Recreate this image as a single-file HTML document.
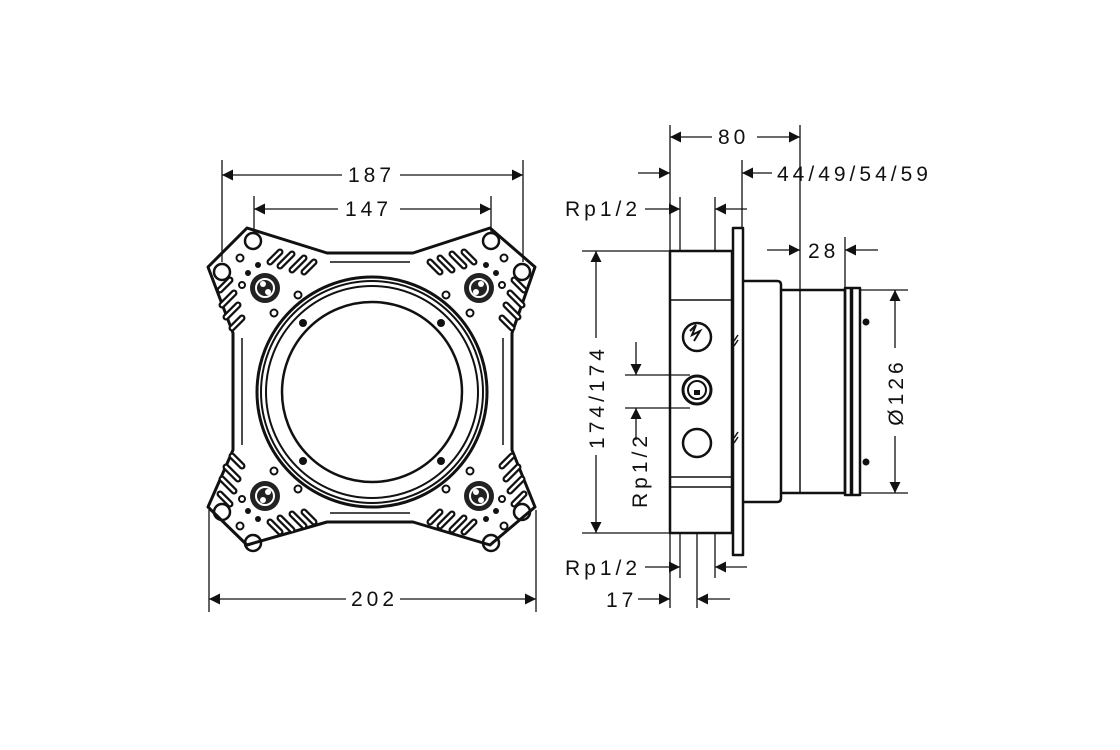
<!DOCTYPE html>
<html><head><meta charset="utf-8"><style>
html,body{margin:0;padding:0;background:#fff;width:1120px;height:750px;overflow:hidden}
svg text{font-family:"Liberation Sans",sans-serif;font-size:21px;letter-spacing:4px;fill:#111}
</style></head><body>
<svg width="1120" height="750" viewBox="0 0 1120 750" xmlns="http://www.w3.org/2000/svg">
<defs>
<marker id="a" viewBox="0 0 10 10" refX="10" refY="5" markerWidth="15" markerHeight="11" markerUnits="userSpaceOnUse" orient="auto-start-reverse"><path d="M0,0L10,5L0,10z" fill="#111"/></marker>
<g id="slots">
    <path d="M270,262 l10,-10"/><path d="M280,266 l12,-12"/><path d="M292,270 l12,-12"/><path d="M304,272 l10,-10"/>
    <path d="M230,280 l-10,10"/><path d="M234,293 l-12,12"/><path d="M238,305 l-12,12"/><path d="M242,318 l-10,10"/>
</g>
<g id="corner">
  <circle cx="253" cy="241" r="8" fill="none" stroke="#111" stroke-width="2.5"/>
  <circle cx="222" cy="272" r="8" fill="none" stroke="#111" stroke-width="2.5"/>
  <circle cx="265" cy="288" r="15" fill="#222"/>
  <circle cx="265" cy="288" r="9" fill="none" stroke="#fff" stroke-width="2"/>
  <circle cx="263" cy="284" r="3" fill="#fff"/>
  <circle cx="268" cy="292" r="3" fill="#fff"/>
  <circle cx="240" cy="258" r="3.5" fill="none" stroke="#111" stroke-width="2"/>
  <circle cx="298" cy="295" r="3.5" fill="none" stroke="#111" stroke-width="2"/>
  <circle cx="274" cy="313" r="3.5" fill="none" stroke="#111" stroke-width="2"/>
  <circle cx="248" cy="273" r="3" fill="#111"/>
  <circle cx="258" cy="265" r="3" fill="#111"/>
  <circle cx="242" cy="285" r="3" fill="none" stroke="#111" stroke-width="2"/>
  <use href="#slots" fill="none" stroke="#111" stroke-width="7" stroke-linecap="round"/>
  <use href="#slots" fill="none" stroke="#fff" stroke-width="2.5" stroke-linecap="round"/>
</g>
</defs>

<!-- FRONT VIEW -->
<g fill="none" stroke="#111" stroke-width="3" stroke-linejoin="round">
<path d="M247,228 L208,267 L233,333 L233,450 L208,507 L247,545 L327,522 L413,522 L490,545 L535,507 L512,450 L512,333 L535,267 L490,228 L413,253 L327,253 Z"/>
</g>
<g fill="none" stroke="#111" stroke-width="1.5">
<path d="M330,262 L410,262"/><path d="M330,513 L410,513"/>
<path d="M242,338 L242,445"/><path d="M503,338 L503,445"/>
</g>
<use href="#corner"/>
<use href="#corner" transform="matrix(-1,0,0,1,744,0)"/>
<use href="#corner" transform="matrix(1,0,0,-1,0,784)"/>
<use href="#corner" transform="matrix(-1,0,0,-1,744,784)"/>
<g fill="none" stroke="#111">
<circle cx="372" cy="392" r="115" stroke-width="3"/>
<circle cx="372" cy="392" r="111" stroke-width="2"/>
<circle cx="372" cy="392" r="106" stroke-width="2"/>
<circle cx="372" cy="392" r="90" stroke-width="2.5"/>
</g>
<g fill="#111">
<circle cx="303" cy="323" r="4"/><circle cx="441" cy="323" r="4"/>
<circle cx="303" cy="461" r="4"/><circle cx="441" cy="461" r="4"/>
</g>

<!-- front dims -->
<g stroke="#111" stroke-width="1.3" fill="none">
<line x1="222" y1="160" x2="222" y2="262"/><line x1="523" y1="160" x2="523" y2="262"/>
<line x1="254" y1="196" x2="254" y2="232"/><line x1="491" y1="196" x2="491" y2="232"/>
<line x1="209" y1="510" x2="209" y2="612"/><line x1="536" y1="510" x2="536" y2="612"/>
<line x1="222" y1="175" x2="342" y2="175" marker-start="url(#a)"/><line x1="400" y1="175" x2="523" y2="175" marker-end="url(#a)"/>
<line x1="254" y1="209" x2="338" y2="209" marker-start="url(#a)"/><line x1="400" y1="209" x2="491" y2="209" marker-end="url(#a)"/>
<line x1="209" y1="599" x2="346" y2="599" marker-start="url(#a)"/><line x1="400" y1="599" x2="536" y2="599" marker-end="url(#a)"/>
</g>
<text x="348" y="182">187</text>
<text x="345" y="216">147</text>
<text x="351" y="606">202</text>

<!-- SIDE VIEW -->
<g fill="none" stroke="#111" stroke-width="2.5" stroke-linejoin="round">
<rect x="670" y="251" width="62" height="282"/>
<rect x="733" y="228" width="10" height="327"/>
<path d="M743,281 L777,281 Q781,281 781,285 L781,498 Q781,502 777,502 L743,502"/>
<path d="M781,290 L845,290 L845,493 L781,493"/>
<rect x="845" y="288" width="6" height="207"/>
<rect x="852" y="288" width="8" height="207"/>
<circle cx="697" cy="337" r="14"/>
<circle cx="697" cy="390" r="14" stroke-width="3"/>
<circle cx="697" cy="390" r="9" stroke-width="2"/>
<circle cx="697" cy="443" r="14"/>
</g>
<g stroke="#111" stroke-width="1.5" fill="none">
<line x1="670" y1="300" x2="732" y2="300"/>
<line x1="670" y1="477" x2="732" y2="477"/>
<line x1="670" y1="487" x2="732" y2="487"/>
<line x1="800" y1="290" x2="800" y2="493"/>
<path d="M690,331 l6,-6 l-4,10 l8,-4 l-6,10" stroke-width="2"/>
<path d="M738,335 l-4,6 M738,340 l-4,6 M738,432 l-4,6 M738,437 l-4,6"/>
</g>
<g fill="#111"><circle cx="866" cy="322" r="3.5"/><circle cx="866" cy="462" r="3.5"/><rect x="694" y="390" width="6" height="5"/></g>

<!-- side dims -->
<g stroke="#111" stroke-width="1.3" fill="none">
<line x1="670" y1="125" x2="670" y2="251"/>
<line x1="680" y1="197" x2="680" y2="251"/>
<line x1="715" y1="197" x2="715" y2="251"/>
<line x1="742" y1="160" x2="742" y2="228"/>
<line x1="800" y1="125" x2="800" y2="290"/>
<line x1="845" y1="237" x2="845" y2="290"/>
<line x1="670" y1="137" x2="712" y2="137" marker-start="url(#a)"/><line x1="757" y1="137" x2="800" y2="137" marker-end="url(#a)"/>
<line x1="638" y1="173" x2="670" y2="173" marker-end="url(#a)"/>
<line x1="772" y1="173" x2="742" y2="173" marker-end="url(#a)"/>
<line x1="645" y1="209" x2="680" y2="209" marker-end="url(#a)"/>
<line x1="747" y1="209" x2="715" y2="209" marker-end="url(#a)"/>
<line x1="767" y1="250" x2="800" y2="250" marker-end="url(#a)"/>
<line x1="878" y1="250" x2="845" y2="250" marker-end="url(#a)"/>
<line x1="582" y1="251" x2="670" y2="251"/><line x1="582" y1="533" x2="670" y2="533"/>
<line x1="596" y1="251" x2="596" y2="338" marker-start="url(#a)"/><line x1="596" y1="455" x2="596" y2="533" marker-end="url(#a)"/>
<line x1="625" y1="375" x2="690" y2="375"/><line x1="625" y1="408" x2="690" y2="408"/>
<line x1="636" y1="342" x2="636" y2="375" marker-end="url(#a)"/>
<line x1="636" y1="440" x2="636" y2="408" marker-end="url(#a)"/>
<line x1="860" y1="290" x2="908" y2="290"/><line x1="860" y1="493" x2="908" y2="493"/>
<line x1="895" y1="290" x2="895" y2="348" marker-start="url(#a)"/><line x1="895" y1="436" x2="895" y2="493" marker-end="url(#a)"/>
<line x1="670" y1="533" x2="670" y2="608"/>
<line x1="680" y1="533" x2="680" y2="578"/>
<line x1="697" y1="533" x2="697" y2="608"/>
<line x1="715" y1="533" x2="715" y2="578"/>
<line x1="645" y1="567" x2="680" y2="567" marker-end="url(#a)"/>
<line x1="747" y1="567" x2="715" y2="567" marker-end="url(#a)"/>
<line x1="638" y1="599" x2="670" y2="599" marker-end="url(#a)"/>
<line x1="730" y1="599" x2="697" y2="599" marker-end="url(#a)"/>
</g>
<text x="718" y="144">80</text>
<text x="777" y="181">44/49/54/59</text>
<text x="565" y="216">Rp1/2</text>
<text x="808" y="258">28</text>
<text x="565" y="575">Rp1/2</text>
<text x="606" y="607">17</text>
<text transform="translate(604,397) rotate(-90)" text-anchor="middle">174/174</text>
<text transform="translate(647,470) rotate(-90)" text-anchor="middle">Rp1/2</text>
<text transform="translate(903,392) rotate(-90)" text-anchor="middle">Ø126</text>
</svg>
</body></html>
